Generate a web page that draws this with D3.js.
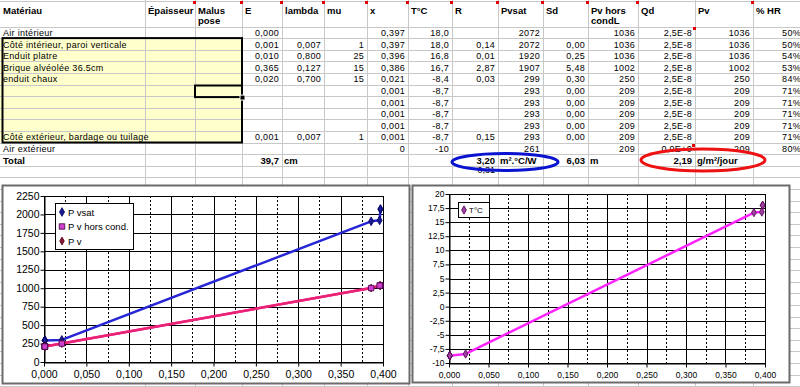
<!DOCTYPE html>
<html>
<head>
<meta charset="utf-8">
<script src="https://cdn.jsdelivr.net/npm/d3@7"></script>
<style>
  body { margin: 0; background: #fff; }
  svg { display: block; font-family: "Liberation Sans", Arial, sans-serif; }
</style>
</head>
<body>
<svg id="sheet" width="800" height="387"></svg>
<script>
// ---- data ----
var headers = ["Matériau", "Épaisseur", "Malus|pose", "E", "lambda", "mu", "x", "T°C", "R", "Pvsat", "Sd", "Pv hors|condL", "Qd", "Pv", "% HR"];
var materials = ["Air intérieur", "Côté intérieur, paroi verticale", "Enduit platre", "Brique alvéolée 36.5cm", "enduit chaux", "", "", "", "", "Côté extérieur, bardage ou tuilage", "Air extérieur"];
var colE      = ["0,000", "0,001", "0,010", "0,365", "0,020", "", "", "", "", "0,001", ""];
var colLambda = ["", "0,007", "0,800", "0,127", "0,700", "", "", "", "", "0,007", ""];
var colMu     = ["", "1", "25", "15", "15", "", "", "", "", "1", ""];
var posX      = [0.397, 0.397, 0.396, 0.386, 0.021, 0.001, 0.001, 0.001, 0.001, 0.001, 0];
var tempC     = [18.0, 18.0, 16.8, 16.7, -8.4, -8.7, -8.7, -8.7, -8.7, -8.7, -10];
var colR      = ["", "0,14", "0,01", "2,87", "0,03", "", "", "", "", "0,15", ""];
var pvsat     = [2072, 2072, 1920, 1907, 299, 293, 293, 293, 293, 293, 261];
var colSd     = ["", "0,00", "0,25", "5,48", "0,30", "0,00", "0,00", "0,00", "0,00", "0,00", ""];
var pvHorsCond = [1036, 1036, 1036, 1002, 250, 209, 209, 209, 209, 209, 209];
var colQd     = ["2,5E-8", "2,5E-8", "2,5E-8", "2,5E-8", "2,5E-8", "2,5E-8", "2,5E-8", "2,5E-8", "2,5E-8", "2,5E-8", "0,0E+0"];
var pv        = [1036, 1036, 1036, 1002, 250, 209, 209, 209, 209, 209, 209];
var hr        = ["50%", "50%", "54%", "53%", "84%", "71%", "71%", "71%", "71%", "71%", "80%"];
// total row: [column, text, anchor]
var totals = [[3, "39,7", "end"], [4, "cm", "start"], [8, "3,20", "end"], [9, "m².°C/W", "start"],
              [10, "6,03", "end"], [11, "m", "start"], [12, "2,19", "end"], [13, "g/m²/jour", "start"]];
var rTotalIn = "0,31";

// rows plotted in the charts (Côté intérieur side .. Côté extérieur)
var chartRows = [0, 1, 2, 3, 4, 5, 6, 7, 8, 9];
var xTicks = [0, 0.05, 0.1, 0.15, 0.2, 0.25, 0.3, 0.35, 0.4];
var xMinor = [0.025, 0.075, 0.125, 0.175, 0.225, 0.275, 0.325, 0.375];
var pTicks = [0, 250, 500, 750, 1000, 1250, 1500, 1750, 2000, 2250];
var tTicks = [-10, -7.5, -5, -2.5, 0, 2.5, 5, 7.5, 10, 12.5, 15, 17.5, 20];

// ---- layout ----
var W = 800, H = 387;
var colEdges = [0, 145, 195, 242, 282, 324, 367, 408, 452, 498, 543, 588, 638, 695, 753, 804];
var headH = 26.5, rowH = 11.6;
function rowTop(i) { return headH + i * rowH; }
function comma(s) { return s.replace(".", ","); }

var svg = d3.select("#sheet");
svg.append("rect").attr("width", W).attr("height", H).attr("fill", "#fff");

// yellow input block
svg.append("rect")
    .attr("x", 0).attr("y", rowTop(1))
    .attr("width", colEdges[3]).attr("height", rowTop(10) - rowTop(1))
    .attr("fill", "#ffffcc");

// sheet grid
var nRows = Math.ceil((H - headH) / rowH) + 1;
var grid = svg.append("g").attr("stroke", "#c8c8c8").attr("stroke-width", 1);
grid.selectAll("line.h")
    .data([1].concat(d3.range(nRows).map(rowTop)))
    .enter().append("line")
    .attr("x1", 0).attr("x2", W)
    .attr("y1", function(d) { return Math.round(d) + 0.5; })
    .attr("y2", function(d) { return Math.round(d) + 0.5; });
grid.selectAll("line.v")
    .data(colEdges.slice(1, -1))
    .enter().append("line")
    .attr("x1", function(d) { return d + 0.5; }).attr("x2", function(d) { return d + 0.5; })
    .attr("y1", 0).attr("y2", H);

// headers
var head = svg.append("g").attr("font-size", "9.5px").attr("font-weight", "bold").attr("fill", "#000");
headers.forEach(function(h, c) {
  var lines = h.split("|");
  lines.forEach(function(t, k) {
    head.append("text")
        .attr("x", colEdges[c] + 3)
        .attr("y", 14 + k * 9.5)
        .text(t);
  });
});

// comment markers (red corners)
var marks = [[194, 2], [241, 2], [281, 2], [323, 2], [366, 2], [407, 2], [451, 2], [497, 2], [542, 2], [587, 2], [637, 2], [752, 2], [694, 28], [693, 145]];
svg.append("g").selectAll("rect")
    .data(marks).enter().append("rect")
    .attr("x", function(d) { return d[0] - 1; }).attr("y", function(d) { return d[1] - 1; })
    .attr("width", 3).attr("height", 3).attr("fill", "#e00000");

// body cells
var tableCols = [
  [0, materials, "start"],
  [3, colE, "end"],
  [4, colLambda, "end"],
  [5, colMu, "end"],
  [6, posX.map(function(v, i) { return i === 10 ? String(v) : comma(v.toFixed(3)); }), "end"],
  [7, tempC.map(function(v, i) { return i === 10 ? String(v) : comma(v.toFixed(1)); }), "end"],
  [8, colR, "end"],
  [9, pvsat.map(String), "end"],
  [10, colSd, "end"],
  [11, pvHorsCond.map(String), "end"],
  [12, colQd, "end"],
  [13, pv.map(String), "end"],
  [14, hr, "end"]
];
var body = svg.append("g").attr("font-size", "9px").attr("fill", "#000").attr("letter-spacing", "0.3px");
tableCols.forEach(function(tc) {
  var c = tc[0], anchor = tc[2];
  body.append("g").selectAll("text")
      .data(tc[1]).enter().append("text")
      .attr("text-anchor", anchor)
      .attr("x", anchor === "start" ? colEdges[c] + 3 : colEdges[c + 1] - 3)
      .attr("y", function(d, i) { return rowTop(i) + 9.5; })
      .text(function(d) { return d; });
});

// total row
var tot = svg.append("g").attr("font-size", "9.5px").attr("font-weight", "bold").attr("fill", "#000");
tot.append("text").attr("x", 3).attr("y", rowTop(11) + 10).text("Total");
tot.selectAll("text.t")
    .data(totals).enter().append("text")
    .attr("text-anchor", function(d) { return d[2]; })
    .attr("x", function(d) { return d[2] === "end" ? colEdges[d[0] + 1] - 3 : colEdges[d[0]] + 2; })
    .attr("y", rowTop(11) + 10)
    .text(function(d) { return d[1]; });
svg.append("text").attr("font-size", "9px").attr("text-anchor", "end")
    .attr("x", colEdges[9] - 3).attr("y", rowTop(12) + 7.5).text(rTotalIn);

// ellipses round the results
svg.append("ellipse").attr("cx", 505).attr("cy", 162).attr("rx", 53).attr("ry", 8.5)
    .attr("fill", "none").attr("stroke", "#0a14d0").attr("stroke-width", 3);
svg.append("ellipse").attr("cx", 703).attr("cy", 160).attr("rx", 62).attr("ry", 11)
    .attr("fill", "none").attr("stroke", "#ee1111").attr("stroke-width", 3);

// thick border of input block + active cell
svg.append("rect")
    .attr("x", 2.5).attr("y", rowTop(1))
    .attr("width", colEdges[3] - 2.5).attr("height", rowTop(10) - rowTop(1))
    .attr("fill", "none").attr("stroke", "#000").attr("stroke-width", 2);
svg.append("rect")
    .attr("x", colEdges[2]).attr("y", rowTop(5) + 1)
    .attr("width", colEdges[3] - colEdges[2]).attr("height", rowH)
    .attr("fill", "none").attr("stroke", "#000").attr("stroke-width", 2);
svg.append("rect")
    .attr("x", colEdges[3] - 2).attr("y", rowTop(6) - 1)
    .attr("width", 5).attr("height", 5)
    .attr("fill", "#000").attr("stroke", "#fff").attr("stroke-width", 1);

// ---- charts ----
function chartFrame(bx, by, bw, bh) {
  var g = svg.append("g");
  g.append("rect").attr("x", bx).attr("y", by).attr("width", bw).attr("height", bh)
      .attr("fill", "#fff").attr("stroke", "#6b6b6b").attr("stroke-width", 2);
  return g;
}

function plotArea(g, x, y, yTicks, yFmt, fs) {
  var x0 = x.range()[0], x1 = x.range()[1], yb = y.range()[0], yt = y.range()[1];
  var snap = function(v) { return Math.round(v) + 0.5; };
  g.append("g").selectAll("line")
      .data(xMinor).enter().append("line")
      .attr("x1", function(d) { return snap(x(d)); }).attr("x2", function(d) { return snap(x(d)); })
      .attr("y1", yt).attr("y2", yb)
      .attr("stroke", "#000").attr("stroke-dasharray", "2,2");
  g.append("g").selectAll("line")
      .data(xTicks.slice(1, -1)).enter().append("line")
      .attr("x1", function(d) { return snap(x(d)); }).attr("x2", function(d) { return snap(x(d)); })
      .attr("y1", yt).attr("y2", yb)
      .attr("stroke", "#000");
  g.append("g").selectAll("line")
      .data(yTicks).enter().append("line")
      .attr("x1", x0).attr("x2", x1)
      .attr("y1", function(d) { return snap(y(d)); }).attr("y2", function(d) { return snap(y(d)); })
      .attr("stroke", "#000");
  g.append("rect").attr("x", snap(x0)).attr("y", snap(yt))
      .attr("width", Math.round(x1 - x0)).attr("height", Math.round(yb - yt))
      .attr("fill", "none").attr("stroke", "#000");

  var ax = g.append("g").attr("transform", "translate(0," + snap(yb) + ")")
      .call(d3.axisBottom(x).tickValues(xTicks).tickSize(4).tickSizeOuter(0)
            .tickFormat(function(d) { return comma(d.toFixed(3)); }));
  var ay = g.append("g").attr("transform", "translate(" + snap(x0) + ",0)")
      .call(d3.axisLeft(y).tickValues(yTicks).tickSize(4).tickSizeOuter(0).tickFormat(yFmt));
  [ax, ay].forEach(function(a) {
    a.attr("font-family", null).attr("font-size", fs + "px");
    a.selectAll("text").attr("fill", "#000");
    a.selectAll("line,path").attr("stroke", "#000");
  });
  ax.selectAll("text").attr("y", 8);
  ay.selectAll("text").attr("x", -5).attr("dy", "0.3em");
}

function series(g, x, y, vals, color, width) {
  var pts = chartRows.map(function(i) { return [posX[i], vals[i]]; });
  g.append("path").datum(pts)
      .attr("fill", "none").attr("stroke", color).attr("stroke-width", width)
      .attr("stroke-linejoin", "round")
      .attr("d", d3.line().x(function(d) { return x(d[0]); }).y(function(d) { return y(d[1]); }));
  return pts;
}

function markers(g, x, y, pts, type, size, fill, stroke) {
  g.append("g").selectAll("path")
      .data(pts).enter().append("path")
      .attr("transform", function(d) { return "translate(" + x(d[0]) + "," + y(d[1]) + ")"; })
      .attr("d", d3.symbol().type(type).size(size))
      .attr("fill", fill).attr("stroke", stroke).attr("stroke-width", 0.8);
}

// left chart: vapour pressures
var gl = chartFrame(2.5, 185.5, 407, 198);
var xL = d3.scaleLinear().domain([0, 0.4]).range([44, 383]);
var yL = d3.scaleLinear().domain([0, 2250]).range([362, 196]);
plotArea(gl, xL, yL, pTicks, function(d) { return String(d); }, 10.5);
var pSat = series(gl, xL, yL, pvsat, "#2626d6", 2.5);
var pHc = series(gl, xL, yL, pvHorsCond, "#ff00ff", 2.5);
var pV = series(gl, xL, yL, pv, "#e8246a", 2.5);
markers(gl, xL, yL, pSat, d3.symbolDiamond, 22, "#1a1a90", "#000060");
markers(gl, xL, yL, pV, d3.symbolDiamond, 18, "#8a1a3a", "#500010");
markers(gl, xL, yL, pHc, d3.symbolSquare, 30, "#d040d0", "#400040");

var legL = gl.append("g").attr("font-size", "9.5px");
legL.append("rect").attr("x", 55.5).attr("y", 203.5).attr("width", 78).attr("height", 46)
    .attr("fill", "#fff").attr("stroke", "#000");
var legItems = [["P vsat", d3.symbolDiamond, "#1a1a90", "#000060", 22],
                ["P v hors cond.", d3.symbolSquare, "#d040d0", "#400040", 30],
                ["P v", d3.symbolDiamond, "#8a1a3a", "#500010", 18]];
legItems.forEach(function(it, k) {
  var cy = 212 + k * 14.5;
  legL.append("path").attr("transform", "translate(62," + cy + ")")
      .attr("d", d3.symbol().type(it[1]).size(it[4])).attr("fill", it[2]).attr("stroke", it[3]).attr("stroke-width", 0.8);
  legL.append("text").attr("x", 68).attr("y", cy + 3.5).text(it[0]);
});

// right chart: temperature
var gr = chartFrame(412.5, 185.5, 377, 197);
var xR = d3.scaleLinear().domain([0, 0.4]).range([449, 765]);
var yR = d3.scaleLinear().domain([-10, 20]).range([363, 194]);
plotArea(gr, xR, yR, tTicks, function(d) { return Number.isInteger(d) ? String(d) : comma(d.toFixed(1)); }, 8.5);
var pT = series(gr, xR, yR, tempC, "#ff22ff", 2.5);
markers(gr, xR, yR, pT, d3.symbolDiamond, 20, "#a040a0", "#500050");

var legR = gr.append("g").attr("font-size", "8px");
legR.append("rect").attr("x", 458.5).attr("y", 202.5).attr("width", 31).attr("height", 15)
    .attr("fill", "#fff").attr("stroke", "#000");
legR.append("path").attr("transform", "translate(464,210)")
    .attr("d", d3.symbol().type(d3.symbolDiamond).size(20)).attr("fill", "#a040a0").attr("stroke", "#500050").attr("stroke-width", 0.8);
legR.append("text").attr("x", 469).attr("y", 213).text("T°C");
</script>
</body>
</html>
